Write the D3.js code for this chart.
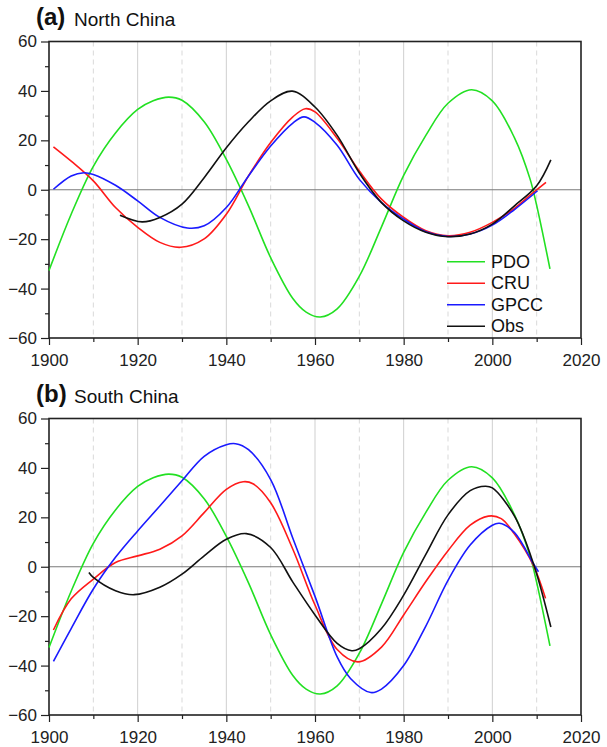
<!DOCTYPE html>
<html><head><meta charset="utf-8">
<script src="https://cdn.jsdelivr.net/npm/d3@7"></script>
<style>body{margin:0;background:#fff;} text{font-family:"Liberation Sans",Arial,sans-serif;}</style>
</head><body>
<svg id="chart" width="607" height="747"></svg>
<script>
// ---- data (year, value) ----
const seriesNames = ["PDO", "CRU", "GPCC", "Obs"];
const seriesColors = ["#22e022", "#ff1a1a", "#1a1aff", "#111111"];
const xTicks = [1900, 1920, 1940, 1960, 1980, 2000, 2020];
const yTicks = [-60, -40, -20, 0, 20, 40, 60];

const pdo = [[1900,-32.7],[1905,-9.9],[1910,9.5],[1915,23],[1920,32.5],[1923.5,36],[1927,37.5],[1930,36.2],[1935,27.5],[1940,12.3],[1945,-6.5],[1950,-27.5],[1955,-44],[1958,-49.5],[1961.2,-51.5],[1965,-48.2],[1970,-35],[1975,-15],[1980,5.8],[1985,22],[1990,35],[1995.3,40.5],[2000,36],[2005,21],[2008.5,4.4],[2010,-6.3],[2013,-32]];

const cruNorth = [[1901,17.4],[1905,11.6],[1910,3.6],[1915,-7.2],[1920,-15.2],[1925,-21.3],[1929.7,-23.3],[1935,-19.9],[1940,-9.9],[1945,5.6],[1950,19.1],[1955,29.5],[1957.8,32.8],[1960,31.5],[1965,20.8],[1970,7.6],[1975,-3.8],[1980,-11.2],[1985,-16.6],[1990,-18.6],[1995,-17.2],[2000,-13.2],[2005,-7.5],[2009,-1.5],[2012.1,3]];
const gpccNorth = [[1901,0.2],[1905,5.6],[1907.9,6.9],[1910,6.2],[1915,1.8],[1920,-4.5],[1925,-11.2],[1931.2,-15.5],[1935,-14.6],[1940,-7.2],[1945,5.6],[1950,17.7],[1955,27],[1957.5,29.5],[1960,27.3],[1965,18],[1970,4.2],[1975,-5.2],[1980,-11.9],[1985,-17],[1990,-18.9],[1995,-17.9],[2000,-14.3],[2005,-8],[2010.2,-0.4]];
const obsNorth = [[1916,-10.3],[1921,-13],[1925,-11.2],[1930,-5.8],[1935,4.9],[1940,17],[1945,27.5],[1950,36],[1954.9,39.9],[1960,33.5],[1965,22],[1970,6.8],[1975,-5.2],[1980,-12.6],[1985,-17.2],[1990,-19],[1995,-17.9],[2000,-13.9],[2005,-6.5],[2010,1.6],[2013.2,12.1]];

const cruSouth = [[1901,-25.6],[1905,-13],[1910,-5],[1915,1.7],[1920,4.4],[1925,7.1],[1930,12.5],[1935,21.9],[1940,31.3],[1943.8,34.4],[1946,33.6],[1950,25.9],[1955,7.1],[1960,-15.5],[1965,-33.5],[1969.7,-38.5],[1975,-32.5],[1980,-19.5],[1985,-6],[1990,6.5],[1995,16.8],[1999.1,20.5],[2002,19.5],[2005,13.2],[2009.3,0.4],[2012,-12.8]];
const gpccSouth = [[1901,-38.3],[1905,-25],[1910,-9],[1915,3.8],[1920,14.5],[1925,24.6],[1930,34.8],[1935,44.7],[1940,49.4],[1942.1,49.8],[1945,47.4],[1950,35.3],[1955,11.5],[1960,-12],[1965,-36.5],[1968,-45.2],[1972.6,-50.9],[1975,-49.5],[1980,-40],[1985,-24],[1990,-5.5],[1995,8.8],[2000,16.8],[2001.6,17.6],[2005,13.8],[2009.3,1.1],[2010.4,-2]];
const obsSouth = [[1909,-2.3],[1910,-4.3],[1915,-9.7],[1919.2,-11.3],[1925,-8.3],[1930,-3],[1935,4.4],[1940,11.1],[1944.5,13.4],[1950,7.8],[1955,-6.2],[1960,-19.5],[1965,-31],[1968.3,-34],[1970,-33.2],[1975,-25],[1980,-11.5],[1985,5],[1990,21],[1995,30.8],[1998.4,32.6],[2000,31.9],[2005,20.5],[2009.3,1.1],[2013.2,-24.4]];

const panels = [
  {label:"(a)", title:"North China", series:[pdo, cruNorth, gpccNorth, obsNorth], legend:true},
  {label:"(b)", title:"South China", series:[pdo, cruSouth, gpccSouth, obsSouth], legend:false}
];

// ---- layout ----
const svg = d3.select("#chart");
const left = 49, right = 581, panelH = 296.5;
const tops = [41.5, 418.5];

const x = d3.scaleLinear().domain([1900, 2020]).range([left, right]);

panels.forEach((p, i) => {
  const top = tops[i], bottom = top + panelH;
  const y = d3.scaleLinear().domain([-60, 60]).range([bottom, top]);
  const g = svg.append("g");

  // vertical gridlines
  const gridYears = d3.range(1910, 2020, 10);
  g.selectAll(".grid").data(gridYears).enter().append("line")
    .attr("x1", d => x(d)).attr("x2", d => x(d))
    .attr("y1", top).attr("y2", bottom)
    .attr("stroke", d => d % 20 === 0 ? "#cfcfcf" : "#d9d9d9")
    .attr("stroke-width", 1)
    .attr("stroke-dasharray", d => d % 20 === 0 ? null : "5,4");

  // zero line
  g.append("line").attr("x1", left).attr("x2", right)
    .attr("y1", y(0)).attr("y2", y(0))
    .attr("stroke", "#7a7a7a").attr("stroke-width", 1.2);

  // axes
  const yAxis = d3.axisLeft(y).tickValues(yTicks).tickSize(8).tickPadding(4).tickFormat(d3.format("d"));
  const yMinor = d3.axisLeft(y).tickValues(d3.range(-50, 60, 20)).tickSize(4).tickFormat("");
  const xAxis = d3.axisBottom(x).tickValues(xTicks).tickSize(7).tickPadding(9).tickFormat(d3.format("d"));
  const xMinor = d3.axisBottom(x).tickValues(d3.range(1910, 2020, 20)).tickSize(4).tickFormat("");

  g.append("g").attr("transform", `translate(${left},0)`).call(yAxis);
  g.append("g").attr("transform", `translate(${left},0)`).call(yMinor);
  g.append("g").attr("transform", `translate(0,${bottom})`).call(xAxis);
  g.append("g").attr("transform", `translate(0,${bottom})`).call(xMinor);
  g.selectAll(".domain").remove();
  g.selectAll(".tick line").attr("stroke", "#222").attr("stroke-width", 1.2);
  g.selectAll(".tick text").attr("font-size", 17).attr("fill", "#222")
    .style("font-family", '"Liberation Sans", Arial, sans-serif');

  // frame
  g.append("rect").attr("x", left).attr("y", top).attr("width", right - left).attr("height", panelH)
    .attr("fill", "none").attr("stroke", "#222").attr("stroke-width", 1.6);

  // lines
  const line = d3.line().x(d => x(d[0])).y(d => y(d[1])).curve(d3.curveCatmullRom.alpha(0.5));
  p.series.forEach((s, k) => {
    g.append("path").datum(s).attr("d", line)
      .attr("fill", "none").attr("stroke", seriesColors[k]).attr("stroke-width", 1.6);
  });

  // title
  g.append("text").attr("x", 36).attr("y", top - 16.5)
    .attr("font-size", 24).attr("font-weight", "bold").attr("fill", "#111").text(p.label);
  g.append("text").attr("x", 74).attr("y", top - 15.5)
    .attr("font-size", 19).attr("fill", "#111").text(p.title);

  // legend
  if (p.legend) {
    const lg = g.append("g");
    seriesNames.forEach((n, k) => {
      const yy = 261.7 + k * 21.5;
      lg.append("line").attr("x1", 447).attr("x2", 485).attr("y1", yy).attr("y2", yy)
        .attr("stroke", seriesColors[k]).attr("stroke-width", 1.6);
      lg.append("text").attr("x", 491).attr("y", yy + 6).attr("font-size", 18)
        .attr("fill", "#111").text(n);
    });
  }
});
</script>
</body></html>
